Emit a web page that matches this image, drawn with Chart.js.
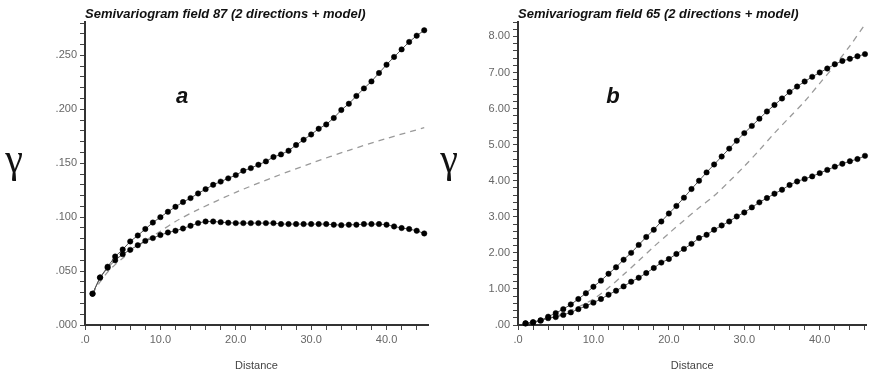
<!DOCTYPE html>
<html>
<head>
<meta charset="utf-8">
<script src="https://cdn.jsdelivr.net/npm/chart.js@4.4.1/dist/chart.umd.min.js"></script>
<style>
  body { margin: 0; background: #fff; }
  .panel { position: absolute; top: 0; height: 374px; }
</style>
</head>
<body>
<div class="panel" style="left:0;width:435px"><canvas id="chartA" width="435" height="374"></canvas></div>
<div class="panel" style="left:435px;width:436px"><canvas id="chartB" width="436" height="374"></canvas></div>
<script>
// Field 87 (panel a): lag distances and semivariance for two directions + model
const lagsA = [1, 2, 3, 4, 5, 6, 7, 8, 9, 10, 11, 12, 13, 14, 15, 16, 17, 18, 19, 20, 21, 22, 23,
               24, 25, 26, 27, 28, 29, 30, 31, 32, 33, 34, 35, 36, 37, 38, 39, 40, 41, 42, 43, 44, 45];
const dirA1 = [0.029, 0.044, 0.054, 0.0635, 0.070, 0.0775, 0.083, 0.089, 0.095, 0.100, 0.105, 0.1096,
               0.114, 0.1177, 0.122, 0.126, 0.130, 0.133, 0.136, 0.139, 0.143, 0.1455, 0.1486, 0.1517,
               0.1558, 0.1582, 0.1616, 0.1669, 0.1718, 0.1767, 0.182, 0.186, 0.192, 0.1994, 0.2052,
               0.2124, 0.2194, 0.2259, 0.2337, 0.2414, 0.2486, 0.2556, 0.2625, 0.2683, 0.2733];
const dirA2 = [0.029, 0.044, 0.053, 0.060, 0.0657, 0.0697, 0.074, 0.078, 0.0806, 0.0834, 0.0858, 0.0874,
               0.0895, 0.092, 0.0945, 0.096, 0.096, 0.0954, 0.0948, 0.0945, 0.0945, 0.0945, 0.0945, 0.0945,
               0.0945, 0.0936, 0.0936, 0.0936, 0.0936, 0.0936, 0.0936, 0.0936, 0.093, 0.0926, 0.093,
               0.093, 0.0936, 0.0936, 0.0936, 0.093, 0.0914, 0.0899, 0.089, 0.0874, 0.0849];
const modelLagsA = [1, 2, 3, 4, 5, 6, 8, 10, 12, 15, 20, 25, 30, 35, 40, 45];
const modelA = [0.029, 0.040, 0.049, 0.056, 0.062, 0.068, 0.078, 0.087, 0.096, 0.107, 0.123, 0.137, 0.150, 0.162, 0.173, 0.183];

// Field 65 (panel b)
const lagsB = [1, 2, 3, 4, 5, 6, 7, 8, 9, 10, 11, 12, 13, 14, 15, 16, 17, 18, 19, 20, 21, 22, 23,
               24, 25, 26, 27, 28, 29, 30, 31, 32, 33, 34, 35, 36, 37, 38, 39, 40, 41, 42, 43, 44, 45, 46];
const dirB1 = [0.05, 0.08, 0.13, 0.23, 0.33, 0.44, 0.57, 0.72, 0.88, 1.06, 1.23, 1.42, 1.60, 1.81, 2.00,
               2.22, 2.44, 2.64, 2.87, 3.09, 3.30, 3.53, 3.77, 4.00, 4.23, 4.45, 4.67, 4.89, 5.11, 5.32,
               5.52, 5.72, 5.92, 6.10, 6.28, 6.46, 6.61, 6.75, 6.88, 7.00, 7.11, 7.23, 7.32, 7.38, 7.45, 7.51];
const dirB2 = [0.04, 0.07, 0.12, 0.19, 0.22, 0.28, 0.35, 0.44, 0.53, 0.62, 0.72, 0.84, 0.95, 1.07, 1.20,
               1.31, 1.44, 1.58, 1.73, 1.83, 1.97, 2.11, 2.25, 2.41, 2.50, 2.64, 2.76, 2.87, 3.01, 3.12,
               3.26, 3.40, 3.52, 3.64, 3.75, 3.88, 3.98, 4.05, 4.12, 4.21, 4.30, 4.39, 4.47, 4.54, 4.60, 4.69];
const modelLagsB = [1, 2, 4, 6, 8, 10, 12, 14, 16, 18, 20, 22, 24, 26, 28, 30, 32, 34, 36, 38, 40, 42, 44, 46];
const modelB = [0.03, 0.07, 0.18, 0.32, 0.50, 0.72, 1.03, 1.40, 1.78, 2.17, 2.54, 2.90, 3.25, 3.58, 3.98,
                4.40, 4.85, 5.32, 5.76, 6.20, 6.70, 7.20, 7.74, 8.33];

// tick labels
const xTickLabels = [0, 10, 20, 30, 40];
const yTickLabelsA = [0, 0.05, 0.10, 0.15, 0.20, 0.25];
const yTickLabelsB = [0, 1, 2, 3, 4, 5, 6, 7, 8];

Chart.defaults.font.family = '"Liberation Sans", Arial, sans-serif';

function pts(xs, ys) {
    return xs.map((x, i) => ({ x: x, y: ys[i] }));
}

function has(list, v) {
    return list.some(l => Math.abs(l - v) < 1e-9);
}

// minor tick marks every `step`, labels only where listed
function tickBuilder(step, max) {
    return function (scale) {
        const ticks = [];
        for (let i = 0; i * step <= max + 1e-9; i++) {
            ticks.push({ value: Math.round(i * step * 1e6) / 1e6 });
        }
        scale.ticks = ticks;
    };
}

// title, panel letter and gamma symbol
const extraText = {
    id: 'extraText',
    afterDraw(chart, args, opts) {
        const ctx = chart.ctx;
        const area = chart.chartArea;
        ctx.save();
        ctx.fillStyle = '#111';
        ctx.textBaseline = 'middle';
        ctx.textAlign = 'left';
        ctx.font = 'italic bold 13px "Liberation Sans", Arial, sans-serif';
        ctx.fillText(opts.title, area.left, 14);
        ctx.textAlign = 'center';
        ctx.font = 'italic bold 22px "Liberation Sans", Arial, sans-serif';
        ctx.fillText(opts.letter, area.left + opts.letterX, 97);
        ctx.textBaseline = 'alphabetic';
        ctx.font = '40px "Liberation Serif", "Times New Roman", serif';
        ctx.fillText('\u03b3', 14, 172);
        ctx.restore();
    }
};

function makeChart(id, cfg) {
    const series = (data) => ({
        data: data,
        borderColor: '#555',
        borderWidth: 1,
        pointRadius: 2.7,
        pointBackgroundColor: '#000',
        pointBorderColor: '#000',
        pointBorderWidth: 0.5,
        tension: 0,
        clip: false
    });
    return new Chart(document.getElementById(id), {
        type: 'line',
        data: {
            datasets: [
                series(cfg.d1),
                series(cfg.d2),
                {
                    data: cfg.model,
                    borderColor: '#9a9a9a',
                    borderWidth: 1.3,
                    borderDash: [6, 5],
                    pointRadius: 0,
                    tension: 0.3,
                    clip: false
                }
            ]
        },
        options: {
            responsive: false,
            animation: false,
            layout: { padding: { top: 22, right: cfg.padRight, bottom: 0, left: 0 } },
            plugins: {
                legend: { display: false },
                tooltip: { enabled: false },
                extraText: { title: cfg.title, letter: cfg.letter, letterX: cfg.letterX }
            },
            scales: {
                x: {
                    type: 'linear',
                    min: 0,
                    max: cfg.xMax,
                    afterBuildTicks: tickBuilder(2, cfg.xMax),
                    afterFit: (s) => { s.height = 49; },
                    border: { display: true, color: '#333', width: 2 },
                    grid: { drawOnChartArea: false, drawTicks: true, tickLength: 5, tickColor: '#444', tickWidth: 1 },
                    ticks: {
                        autoSkip: false,
                        maxRotation: 0,
                        padding: 3,
                        color: '#666',
                        font: { size: 11 },
                        callback: (v) => has(xTickLabels, v) ? v.toFixed(1).replace(/^0/, '') : ''
                    },
                    title: {
                        display: true,
                        text: 'Distance',
                        color: '#444',
                        font: { size: 11 },
                        padding: { top: 0, bottom: 1 }
                    }
                },
                y: {
                    type: 'linear',
                    min: 0,
                    max: cfg.yMax,
                    afterBuildTicks: tickBuilder(cfg.yStep, cfg.yMax),
                    afterFit: (s) => { s.width = cfg.yWidth; },
                    border: { display: true, color: '#333', width: 2 },
                    grid: { drawOnChartArea: false, drawTicks: true, tickLength: 5, tickColor: '#444', tickWidth: 1 },
                    ticks: {
                        autoSkip: false,
                        padding: 3,
                        color: '#666',
                        font: { size: 11 },
                        callback: (v) => has(cfg.yLabels, v) ? v.toFixed(cfg.yDigits).replace(/^0/, '') : ''
                    }
                }
            }
        },
        plugins: [extraText]
    });
}

makeChart('chartA', {
    d1: pts(lagsA, dirA1),
    d2: pts(lagsA, dirA2),
    model: pts(modelLagsA, modelA),
    title: 'Semivariogram field 87 (2 directions + model)',
    letter: 'a',
    letterX: 97,
    xMax: 45.5,
    yMax: 0.281,
    yStep: 0.01,
    yLabels: yTickLabelsA,
    yDigits: 3,
    yWidth: 85,
    padRight: 7
});

makeChart('chartB', {
    d1: pts(lagsB, dirB1),
    d2: pts(lagsB, dirB2),
    model: pts(modelLagsB, modelB),
    title: 'Semivariogram field 65 (2 directions + model)',
    letter: 'b',
    letterX: 95,
    xMax: 46.2,
    yMax: 8.4,
    yStep: 0.2,
    yLabels: yTickLabelsB,
    yDigits: 2,
    yWidth: 83,
    padRight: 4
});
</script>
</body>
</html>
